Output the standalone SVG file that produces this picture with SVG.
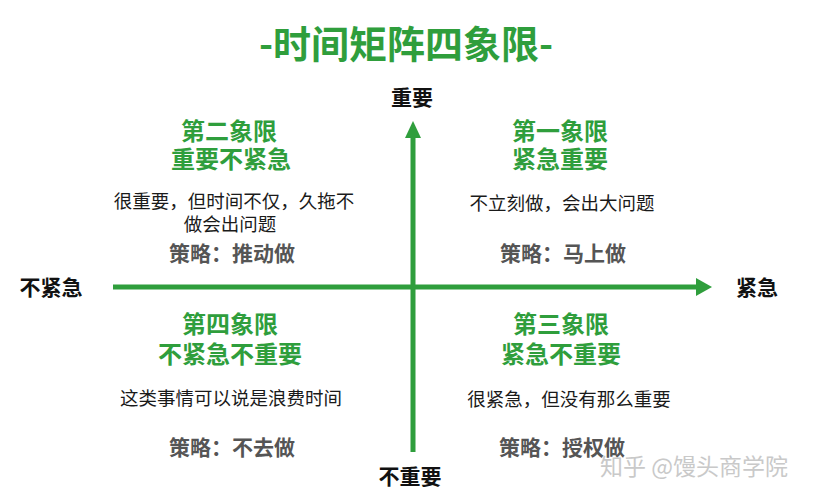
<svg xmlns="http://www.w3.org/2000/svg" width="813" height="500" viewBox="0 0 813 500">
<style>
.t{font-family:"Noto Sans CJK SC","Noto Sans",sans-serif;text-anchor:middle}
.title{font-size:38px;font-weight:bold;fill:#2f9e3c}
.q{font-family:"Liberation Sans","Noto Sans CJK SC",sans-serif;font-size:24px;font-weight:bold;fill:#2f9e3c}
.body{font-family:"Liberation Sans","Noto Sans CJK SC",sans-serif;font-size:18.5px;fill:#1a1a1a}
.strat{font-size:21px;font-weight:bold;fill:#555555}
.axis{font-size:21px;font-weight:bold;fill:#111111}
.wm{font-size:23px;fill:#c9c9c9}
.ln{stroke:#2f9e3c;stroke-width:5;fill:none}
.ah{fill:#2f9e3c}
</style>
<rect width="813" height="500" fill="#ffffff"/>
<g id="title"><text class="t title" x="406" y="58">-时间矩阵四象限-</text></g>
<g id="connectors">
<line class="ln" x1="413" y1="452" x2="413" y2="136"/>
<polygon class="ah" points="413,121 405,138 421,138"/>
<line class="ln" x1="113" y1="287" x2="698" y2="287"/>
<polygon class="ah" points="712,287 696,278 696,296"/>
</g>
<g id="axis-top"><text class="t axis" x="412" y="105">重要</text></g>
<g id="axis-bottom"><text class="t axis" x="410" y="484">不重要</text></g>
<g id="axis-left"><text class="t axis" x="51" y="295">不紧急</text></g>
<g id="axis-right"><text class="t axis" x="757" y="295">紧急</text></g>
<g id="q2">
<text class="t q" x="229" y="140">第二象限</text>
<text class="t q" x="231" y="168">重要不紧急</text>
<text class="t body" x="234" y="208">很重要，但时间不仅，久拖不</text>
<text class="t body" x="230" y="231">做会出问题</text>
<text class="t strat" x="232" y="261">策略：推动做</text>
</g>
<g id="q1">
<text class="t q" x="560" y="140">第一象限</text>
<text class="t q" x="560" y="168">紧急重要</text>
<text class="t body" x="562" y="210">不立刻做，会出大问题</text>
<text class="t strat" x="563" y="261">策略：马上做</text>
</g>
<g id="q4">
<text class="t q" x="230" y="333">第四象限</text>
<text class="t q" x="230" y="363">不紧急不重要</text>
<text class="t body" x="231" y="405">这类事情可以说是浪费时间</text>
<text class="t strat" x="232" y="455">策略：不去做</text>
</g>
<g id="q3">
<text class="t q" x="561" y="333">第三象限</text>
<text class="t q" x="561" y="363">紧急不重要</text>
<text class="t body" x="569" y="406">很紧急，但没有那么重要</text>
<text class="t strat" x="562" y="455">策略：授权做</text>
</g>
<g id="watermark"><text class="t wm" x="694" y="475">知乎 @馒头商学院</text></g>
</svg>
